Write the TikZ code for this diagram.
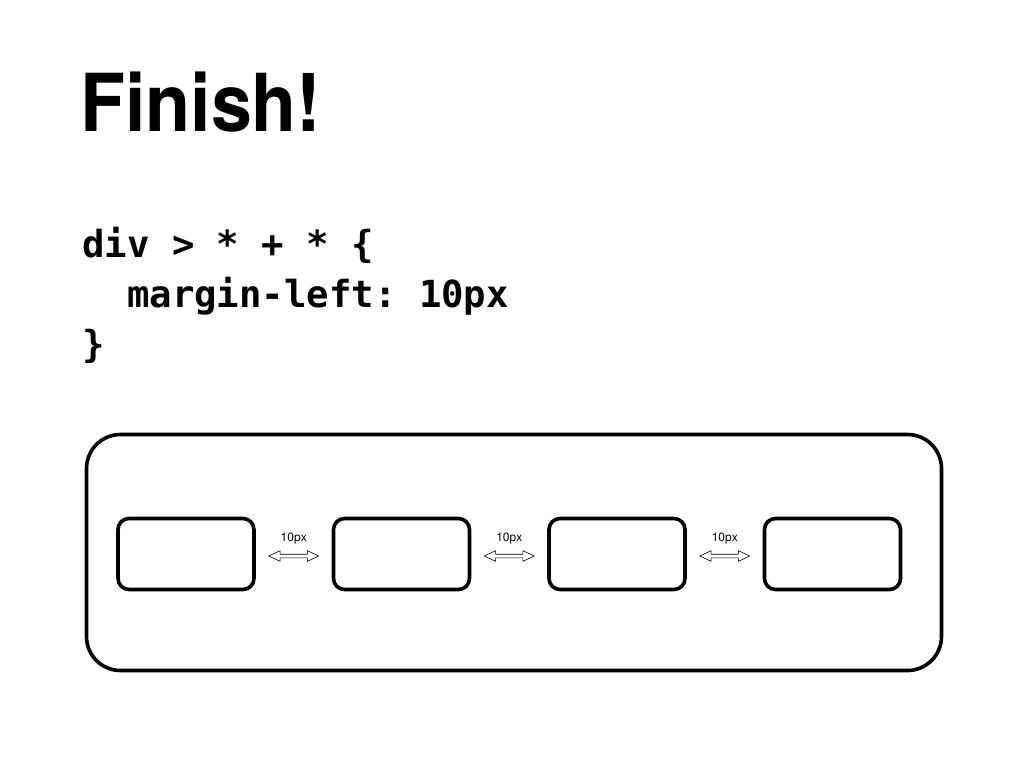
\documentclass[tikz,border=0pt]{standalone}
\usepackage{fontspec}
\setmainfont{TeX Gyre Heros}
\setmonofont{DejaVu Sans Mono}
\usepackage{tikz}
\usetikzlibrary{positioning,calc,shapes.arrows}
\tikzset{
    sketch/.style={draw, line width=3.6pt, line join=round},
    outer box/.style={sketch, rectangle, rounded corners=34pt, minimum width=855pt, minimum height=236pt, outer sep=0pt},
    item box/.style={sketch, rectangle, rounded corners=11pt, minimum width=136pt, minimum height=71pt, outer sep=0pt},
    gap arrow/.style={double arrow, draw, line width=0.6pt, inner xsep=0pt, inner ysep=1.5pt, minimum height=50pt, double arrow head extend=3.5pt, double arrow tip angle=50},
    gap label/.style={font=\fontsize{12}{14}\selectfont, inner sep=0pt},
    code line/.style={anchor=base west, inner sep=0pt, font=\fontsize{37.3}{50}\selectfont\ttfamily\bfseries}
}
\begin{document}
\begin{tikzpicture}[x=1pt, y=1pt]
    \useasboundingbox (0,0) rectangle (1024,-768);

    % Title
    \node[anchor=base west, inner sep=0pt, xscale=0.92, font=\fontsize{80}{96}\selectfont\bfseries] (title) at (80,-131) {Finish!};

    % CSS rule
    \node[code line] (codeA) at (82,-257) {div > * + * \{};
    \node[code line] (codeB) at (82,-307) {\phantom{mm}margin-left: 10px};
    \node[code line] (codeC) at (82,-357) {\}};

    % Container
    \node[outer box] (container) at (514,-552.5) {};

    % Children
    \node[item box] (b1) at (186,-554) {};
    \node[item box, right=79.5pt of b1] (b2) {};
    \node[item box, right=79.5pt of b2] (b3) {};
    \node[item box, right=79.5pt of b3] (b4) {};

    % Margins
    \node[gap arrow] (g1) at ($(b1.east)!0.5!(b2.west)+(0,-2)$) {};
    \node[gap arrow] (g2) at ($(b2.east)!0.5!(b3.west)+(0,-2)$) {};
    \node[gap arrow] (g3) at ($(b3.east)!0.5!(b4.west)+(0,-2)$) {};
    \node[gap label, above=10pt of g1] (l1) {10px};
    \node[gap label, above=10pt of g2] (l2) {10px};
    \node[gap label, above=10pt of g3] (l3) {10px};
\end{tikzpicture}
\end{document}
